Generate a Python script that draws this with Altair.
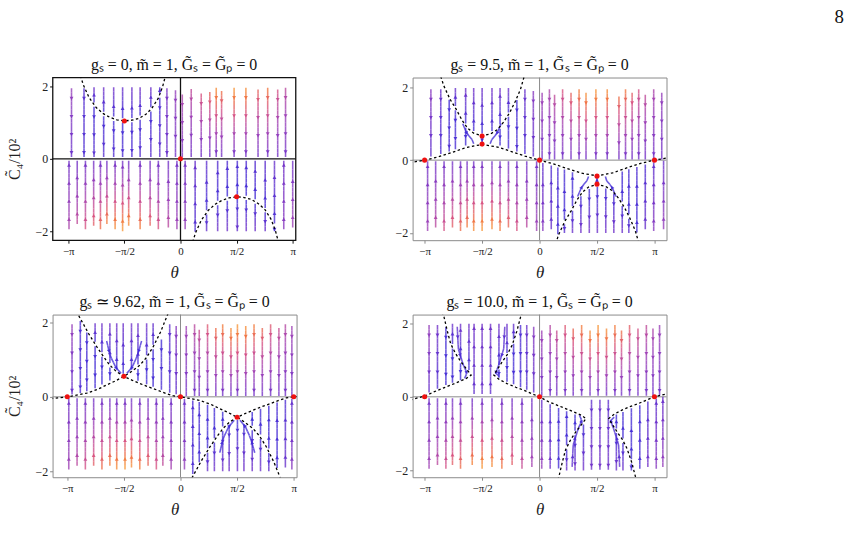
import math
import altair as alt
import pandas as pd

PI = math.pi
SERIF = "Liberation Serif"

TITLES = [
    "gₛ = 0,  m\u0303 = 1,  G\u0303ₛ = G\u0303ₚ = 0",
    "gₛ = 9.5,  m\u0303 = 1,  G\u0303ₛ = G\u0303ₚ = 0",
    "gₛ ≃ 9.62,  m\u0303 = 1,  G\u0303ₛ = G\u0303ₚ = 0",
    "gₛ = 10.0,  m\u0303 = 1,  G\u0303ₛ = G\u0303ₚ = 0",
]
Y_TITLE = "C\u0303₄/10²"
X_TICKS = [-PI, -PI / 2, 0.0, PI / 2, PI]
Y_TICKS = [-2, 0, 2]

# streamlines: (theta, C_start, C_end, speed_start, speed_end), flow runs start -> end
# bent streamlines: ([(theta, C), ...], speed_start, speed_end)

# ---------------- g_s = 0 ----------------
P1_LINES = [
    (-3.05, 1.95, 0.05, 0.45, 0.25), (-2.70, 1.95, 0.05, 0.15, 0.10),
    (-2.42, 1.56, 1.98, 0.05, 0.30), (-2.42, 1.44, 0.05, 0.05, 0.15),
    (-2.15, 1.30, 1.98, 0.05, 0.30), (-2.15, 1.18, 0.05, 0.05, 0.15),
    (-1.87, 1.17, 1.98, 0.05, 0.30), (-1.87, 1.05, 0.05, 0.05, 0.12),
    (-1.62, 1.12, 1.98, 0.03, 0.25), (-1.62, 1.00, 0.05, 0.03, 0.10),
    (-1.36, 1.13, 1.98, 0.05, 0.28), (-1.36, 1.01, 0.05, 0.05, 0.12),
    (-1.13, 1.20, 1.98, 0.05, 0.30), (-1.13, 1.08, 0.05, 0.05, 0.15),
    (-0.83, 1.43, 1.98, 0.05, 0.30), (-0.83, 1.31, 0.05, 0.05, 0.18),
    (-0.58, 1.81, 1.98, 0.05, 0.20), (-0.58, 1.69, 0.05, 0.08, 0.20),
    (-0.38, 1.95, 0.05, 0.35, 0.25), (-0.14, 1.90, 0.05, 0.45, 0.30),
    (0.05, 1.78, 0.05, 0.55, 0.35), (0.30, 1.93, 0.05, 0.62, 0.30),
    (0.58, 1.81, 0.05, 0.72, 0.30), (0.82, 1.85, 0.05, 0.80, 0.30),
    (1.00, 1.97, 0.05, 0.95, 0.30), (1.15, 1.88, 0.05, 0.85, 0.30),
    (1.50, 1.97, 0.05, 0.97, 0.30), (1.83, 1.97, 0.05, 0.95, 0.30),
    (2.17, 1.92, 0.05, 0.80, 0.30), (2.44, 1.97, 0.05, 0.88, 0.30),
    (2.72, 1.92, 0.05, 0.70, 0.30), (2.94, 1.97, 0.05, 0.60, 0.30),
    (-3.12, -1.95, -0.05, 0.55, 0.30), (-2.89, -1.80, -0.05, 0.62, 0.30),
    (-2.66, -1.95, -0.05, 0.72, 0.30), (-2.43, -1.85, -0.05, 0.78, 0.30),
    (-2.24, -1.95, -0.05, 0.85, 0.30), (-2.06, -1.80, -0.05, 0.90, 0.30),
    (-1.83, -1.95, -0.05, 0.95, 0.30), (-1.62, -2.00, -0.05, 0.98, 0.30),
    (-1.45, -1.85, -0.05, 0.95, 0.30), (-1.13, -1.95, -0.05, 0.90, 0.30),
    (-0.85, -1.85, -0.05, 0.80, 0.30), (-0.62, -1.95, -0.05, 0.72, 0.30),
    (-0.34, -1.90, -0.05, 0.60, 0.30), (-0.10, -1.95, -0.05, 0.50, 0.30),
    (0.13, -1.95, -0.05, 0.45, 0.30), (0.41, -2.02, -0.05, 0.10, 0.25),
    (0.73, -1.42, -0.05, 0.05, 0.20), (0.73, -1.54, -2.00, 0.05, 0.25),
    (1.04, -1.16, -0.05, 0.05, 0.15), (1.04, -1.28, -2.00, 0.05, 0.30),
    (1.31, -1.04, -0.05, 0.03, 0.12), (1.31, -1.16, -2.00, 0.03, 0.30),
    (1.59, -0.99, -0.05, 0.03, 0.10), (1.59, -1.11, -2.00, 0.03, 0.25),
    (1.84, -1.02, -0.05, 0.03, 0.12), (1.84, -1.14, -2.00, 0.03, 0.30),
    (2.09, -1.12, -0.05, 0.05, 0.15), (2.09, -1.24, -2.00, 0.05, 0.30),
    (2.37, -1.36, -0.05, 0.05, 0.20), (2.37, -1.48, -2.00, 0.05, 0.28),
    (2.63, -1.79, -0.05, 0.08, 0.25), (2.63, -1.91, -2.00, 0.05, 0.10),
    (2.89, -1.95, -0.05, 0.40, 0.30), (3.14, -1.90, -0.05, 0.50, 0.30),
]
P1_BENT = []
P1_CURVES = [
    [(-2.80, 2.30), (-2.72, 2.05), (-2.56, 1.70), (-2.36, 1.42), (-2.16, 1.25),
     (-1.98, 1.15), (-1.78, 1.08), (-1.57, 1.05), (-1.36, 1.07), (-1.16, 1.12),
     (-0.96, 1.24), (-0.80, 1.40), (-0.62, 1.68), (-0.50, 2.00), (-0.42, 2.30)],
    [(0.34, -2.30), (0.42, -2.05), (0.58, -1.70), (0.78, -1.42), (0.98, -1.25),
     (1.16, -1.15), (1.36, -1.08), (1.57, -1.05), (1.78, -1.07), (1.98, -1.12),
     (2.18, -1.24), (2.36, -1.40), (2.54, -1.68), (2.66, -2.00), (2.74, -2.30)],
]
P1_FIXED = [(-PI / 2, 1.05), (PI / 2, -1.05), (0.0, 0.0)]

# ---------------- g_s = 9.5 ----------------
P2_LINES = [
    (-2.97, 1.95, 0.10, 0.40, 0.20), (-2.70, 1.95, 0.17, 0.25, 0.10),
    (-2.47, 1.66, 0.24, 0.05, 0.10),
    (-2.30, 1.49, 1.98, 0.05, 0.28), (-2.30, 1.37, 0.30, 0.05, 0.08),
    (-2.02, 1.01, 1.98, 0.05, 0.30), (-2.02, 0.89, 0.40, 0.05, 0.05),
    (-1.80, 0.80, 1.98, 0.05, 0.30), (-1.57, 0.73, 1.98, 0.03, 0.28),
    (-1.30, 0.80, 1.98, 0.05, 0.30),
    (-1.08, 0.98, 1.98, 0.05, 0.30), (-1.08, 0.86, 0.40, 0.05, 0.05),
    (-0.85, 1.31, 1.98, 0.05, 0.28), (-0.85, 1.19, 0.32, 0.05, 0.08),
    (-0.62, 1.65, 0.24, 0.05, 0.10), (-0.40, 1.95, 0.17, 0.25, 0.10),
    (-0.17, 1.90, 0.10, 0.40, 0.20),
    (0.07, 1.85, 0.02, 0.50, 0.30), (0.27, 1.95, 0.02, 0.55, 0.30),
    (0.41, 1.80, 0.02, 0.62, 0.30), (0.63, 1.95, 0.02, 0.72, 0.30),
    (0.86, 1.85, 0.02, 0.80, 0.30), (1.08, 1.95, 0.02, 0.90, 0.30),
    (1.27, 1.85, 0.02, 0.95, 0.30), (1.54, 1.95, 0.02, 0.97, 0.30),
    (1.85, 1.95, 0.02, 0.95, 0.30), (2.17, 1.75, 0.02, 0.85, 0.30),
    (2.35, 1.95, 0.02, 0.88, 0.30), (2.53, 1.85, 0.02, 0.78, 0.30),
    (2.71, 1.95, 0.02, 0.70, 0.30), (2.89, 1.80, 0.02, 0.62, 0.30),
    (3.12, 1.95, 0.02, 0.55, 0.30), (3.34, 1.85, 0.02, 0.45, 0.30),
    (-3.06, -1.95, -0.03, 0.50, 0.30), (-2.84, -1.85, -0.03, 0.60, 0.30),
    (-2.61, -1.95, -0.03, 0.70, 0.30), (-2.38, -1.85, -0.03, 0.78, 0.30),
    (-2.16, -1.95, -0.03, 0.85, 0.30), (-1.98, -1.85, -0.03, 0.90, 0.30),
    (-1.80, -1.95, -0.03, 0.95, 0.30), (-1.57, -1.95, -0.03, 0.98, 0.30),
    (-1.30, -1.90, -0.03, 0.95, 0.30), (-1.08, -1.95, -0.03, 0.90, 0.30),
    (-0.85, -1.85, -0.03, 0.82, 0.30), (-0.62, -1.95, -0.03, 0.72, 0.30),
    (-0.35, -1.85, -0.03, 0.60, 0.30), (-0.08, -1.95, -0.03, 0.50, 0.30),
    (0.09, -1.95, -0.08, 0.40, 0.20), (0.32, -1.90, -0.15, 0.25, 0.10),
    (0.50, -2.04, -0.20, 0.05, 0.10),
    (0.68, -1.64, -0.26, 0.05, 0.08), (0.68, -1.76, -2.00, 0.05, 0.20),
    (0.90, -1.27, -0.33, 0.05, 0.05), (0.90, -1.39, -2.00, 0.05, 0.28),
    (1.13, -0.99, -2.00, 0.05, 0.30), (1.36, -0.79, -2.00, 0.05, 0.30),
    (1.58, -0.73, -2.00, 0.03, 0.28), (1.81, -0.78, -2.00, 0.05, 0.30),
    (2.03, -0.92, -2.00, 0.05, 0.30),
    (2.26, -1.14, -0.31, 0.05, 0.05), (2.26, -1.26, -2.00, 0.05, 0.28),
    (2.44, -1.49, -0.25, 0.05, 0.08), (2.44, -1.61, -2.00, 0.05, 0.22),
    (2.66, -1.99, -0.19, 0.05, 0.10), (2.89, -1.90, -0.12, 0.25, 0.10),
    (3.12, -1.95, -0.06, 0.40, 0.20), (3.39, -1.90, -0.02, 0.45, 0.25),
]
P2_BENT = [
    ([(-2.10, 1.00), (-1.98, 0.72), (-1.85, 0.58), (-1.80, 0.45)], 0.05, 0.03),
    ([(-1.05, 1.00), (-1.17, 0.72), (-1.30, 0.58), (-1.35, 0.45)], 0.05, 0.03),
    ([(-1.57, 0.62), (-1.57, 0.48)], 0.02, 0.02),
    ([(1.04, -1.00), (1.16, -0.72), (1.29, -0.58), (1.34, -0.45)], 0.05, 0.03),
    ([(2.09, -1.00), (1.97, -0.72), (1.84, -0.58), (1.80, -0.45)], 0.05, 0.03),
    ([(1.57, -0.62), (1.57, -0.48)], 0.02, 0.02),
]
P2_CURVES = [
    [(-2.70, 2.30), (-2.62, 2.05), (-2.45, 1.68), (-2.28, 1.40), (-2.12, 1.10),
     (-1.97, 0.88), (-1.80, 0.74), (-1.57, 0.67), (-1.34, 0.72), (-1.15, 0.84),
     (-0.98, 1.05), (-0.82, 1.30), (-0.66, 1.62), (-0.52, 1.95), (-0.42, 2.30)],
    [(0.44, -2.30), (0.52, -2.05), (0.69, -1.68), (0.86, -1.40), (1.02, -1.10),
     (1.17, -0.88), (1.34, -0.74), (1.57, -0.67), (1.80, -0.72), (1.99, -0.84),
     (2.16, -1.05), (2.32, -1.30), (2.48, -1.62), (2.62, -1.95), (2.72, -2.30)],
    [(-3.55, -0.07), (-3.14, 0.00), (-2.80, 0.08), (-2.42, 0.20), (-2.00, 0.35),
     (-1.57, 0.43), (-1.15, 0.36), (-0.75, 0.23), (-0.40, 0.11), (0.00, 0.00),
     (0.40, -0.11), (0.75, -0.23), (1.15, -0.36), (1.57, -0.43), (2.00, -0.35),
     (2.42, -0.20), (2.80, -0.08), (3.14, 0.00), (3.55, 0.07)],
]
P2_FIXED = [(-PI, 0.0), (-PI / 2, 0.66), (-PI / 2, 0.44), (0.0, 0.0),
            (PI / 2, -0.44), (PI / 2, -0.66), (PI, 0.0)]

# ---------------- g_s ~ 9.62 ----------------
P3_LINES = [
    (-3.01, 1.95, 0.06, 0.45, 0.25), (-2.78, 2.04, 0.10, 0.10, 0.10),
    (-2.60, 1.73, 0.15, 0.05, 0.08),
    (-2.37, 1.48, 1.98, 0.05, 0.28), (-2.37, 1.36, 0.23, 0.05, 0.05),
    (-2.18, 1.20, 1.98, 0.05, 0.30), (-2.18, 1.08, 0.33, 0.05, 0.05),
    (-1.96, 0.91, 1.98, 0.05, 0.30), (-1.96, 0.79, 0.44, 0.03, 0.03),
    (-1.77, 0.73, 1.98, 0.05, 0.30), (-1.59, 0.62, 1.98, 0.03, 0.28),
    (-1.36, 0.73, 1.98, 0.05, 0.30),
    (-1.18, 0.87, 1.98, 0.05, 0.30), (-1.18, 0.75, 0.43, 0.03, 0.03),
    (-0.94, 1.12, 1.98, 0.05, 0.30), (-0.94, 1.00, 0.34, 0.05, 0.05),
    (-0.76, 1.40, 1.98, 0.05, 0.25), (-0.76, 1.28, 0.27, 0.05, 0.05),
    (-0.53, 1.54, 0.19, 0.05, 0.08), (-0.30, 1.95, 0.11, 0.20, 0.10),
    (-0.12, 1.90, 0.07, 0.40, 0.20),
    (0.16, 1.90, 0.02, 0.50, 0.30), (0.39, 1.95, 0.02, 0.60, 0.30),
    (0.52, 1.80, 0.02, 0.65, 0.30), (0.75, 1.95, 0.02, 0.75, 0.30),
    (0.98, 1.85, 0.02, 0.85, 0.30), (1.17, 1.95, 0.02, 0.90, 0.30),
    (1.40, 1.85, 0.02, 0.95, 0.30), (1.58, 1.95, 0.02, 0.97, 0.30),
    (1.81, 1.90, 0.02, 0.95, 0.30), (2.04, 1.95, 0.02, 0.90, 0.30),
    (2.27, 1.85, 0.02, 0.82, 0.30), (2.50, 1.95, 0.02, 0.75, 0.30),
    (2.73, 1.85, 0.02, 0.65, 0.30), (2.91, 1.95, 0.02, 0.58, 0.30),
    (3.09, 1.90, 0.02, 0.50, 0.30),
    (-3.10, -1.95, -0.04, 0.50, 0.30), (-2.87, -1.85, -0.04, 0.60, 0.30),
    (-2.64, -1.95, -0.04, 0.70, 0.30), (-2.41, -1.85, -0.04, 0.78, 0.30),
    (-2.18, -1.95, -0.04, 0.85, 0.30), (-1.96, -1.85, -0.04, 0.90, 0.30),
    (-1.77, -1.95, -0.04, 0.95, 0.30), (-1.54, -1.95, -0.04, 0.98, 0.30),
    (-1.36, -1.90, -0.04, 0.95, 0.30), (-1.13, -1.95, -0.04, 0.90, 0.30),
    (-0.90, -1.85, -0.04, 0.82, 0.30), (-0.67, -1.95, -0.04, 0.72, 0.30),
    (-0.49, -1.85, -0.04, 0.62, 0.30), (-0.26, -1.95, -0.04, 0.52, 0.30),
    (0.11, -1.95, -0.06, 0.45, 0.25), (0.34, -2.07, -0.10, 0.10, 0.10),
    (0.52, -1.76, -0.14, 0.05, 0.08),
    (0.75, -1.38, -0.21, 0.05, 0.05), (0.75, -1.50, -2.00, 0.05, 0.28),
    (0.94, -1.11, -0.30, 0.05, 0.05), (0.94, -1.23, -2.00, 0.05, 0.30),
    (1.17, -0.80, -0.40, 0.03, 0.03), (1.17, -0.92, -2.00, 0.05, 0.30),
    (1.35, -0.75, -2.00, 0.05, 0.30), (1.58, -0.62, -2.00, 0.03, 0.28),
    (1.76, -0.73, -2.00, 0.05, 0.30),
    (1.99, -0.90, -2.00, 0.05, 0.30), (1.99, -0.78, -0.41, 0.03, 0.03),
    (2.22, -1.13, -2.00, 0.05, 0.28), (2.22, -1.01, -0.32, 0.05, 0.05),
    (2.45, -1.51, -2.00, 0.05, 0.22), (2.45, -1.39, -0.24, 0.05, 0.05),
    (2.68, -1.91, -0.15, 0.05, 0.08), (2.91, -1.90, -0.08, 0.25, 0.10),
    (3.09, -1.95, -0.05, 0.40, 0.20),
]
P3_BENT = [
    ([(-2.05, 1.50), (-1.95, 1.10), (-1.80, 0.80), (-1.65, 0.63)], 0.05, 0.02),
    ([(-1.08, 1.50), (-1.20, 1.10), (-1.34, 0.80), (-1.49, 0.63)], 0.05, 0.02),
    ([(1.09, -1.50), (1.19, -1.10), (1.34, -0.80), (1.49, -0.63)], 0.05, 0.02),
    ([(2.06, -1.50), (1.94, -1.10), (1.80, -0.80), (1.65, -0.63)], 0.05, 0.02),
]
P3_CURVES = [
    [(-2.88, 2.30), (-2.83, 2.19), (-2.55, 1.70), (-2.32, 1.34), (-2.10, 1.03),
     (-1.96, 0.85), (-1.78, 0.68), (-1.57, 0.55), (-1.35, 0.45), (-1.13, 0.36),
     (-0.90, 0.27), (-0.67, 0.19), (-0.40, 0.09), (-0.21, 0.03), (0.00, 0.00),
     (0.29, -0.05), (0.54, -0.10), (0.84, -0.20), (1.09, -0.32), (1.34, -0.43),
     (1.57, -0.55), (1.78, -0.68), (2.01, -0.85), (2.19, -1.05), (2.38, -1.34),
     (2.59, -1.75), (2.79, -2.23), (2.83, -2.30)],
    [(-3.60, -0.05), (-3.14, 0.00), (-2.85, 0.05), (-2.60, 0.10), (-2.30, 0.20),
     (-2.05, 0.32), (-1.80, 0.43), (-1.57, 0.55), (-1.36, 0.68), (-1.13, 0.85),
     (-0.95, 1.05), (-0.76, 1.34), (-0.55, 1.75), (-0.35, 2.23), (-0.31, 2.30)],
    [(0.26, -2.30), (0.31, -2.19), (0.59, -1.70), (0.82, -1.34), (1.04, -1.03),
     (1.18, -0.85), (1.36, -0.68), (1.57, -0.55), (1.79, -0.45), (2.01, -0.36),
     (2.24, -0.27), (2.47, -0.19), (2.74, -0.09), (2.93, -0.03), (3.14, 0.00),
     (3.30, 0.01)],
]
P3_FIXED = [(-PI, 0.0), (-PI / 2, 0.55), (0.0, 0.0), (PI / 2, -0.55), (PI, 0.0)]

# ---------------- g_s = 10 ----------------
P4_LINES = [
    (-3.02, 1.95, 0.12, 0.45, 0.25), (-2.79, 1.95, 0.22, 0.30, 0.12),
    (-2.56, 1.89, 0.32, 0.05, 0.05),
    (-2.38, 1.43, 1.98, 0.05, 0.28), (-2.38, 1.31, 0.38, 0.05, 0.05),
    (-2.16, 1.03, 1.98, 0.05, 0.30), (-2.16, 0.91, 0.45, 0.03, 0.03),
    (-1.93, 0.73, 1.98, 0.05, 0.30),
    (-1.79, 0.08, 1.98, 0.20, 0.30), (-1.57, 0.08, 1.98, 0.25, 0.30),
    (-1.34, 0.08, 1.98, 0.20, 0.30),
    (-1.11, 0.86, 1.98, 0.05, 0.30), (-1.11, 0.74, 0.52, 0.03, 0.03),
    (-0.89, 1.19, 1.98, 0.05, 0.28), (-0.89, 1.07, 0.41, 0.05, 0.05),
    (-0.71, 1.56, 1.98, 0.05, 0.25), (-0.71, 1.44, 0.34, 0.05, 0.05),
    (-0.52, 1.95, 0.26, 0.10, 0.05), (-0.35, 1.95, 0.19, 0.25, 0.10),
    (-0.16, 1.90, 0.12, 0.40, 0.20),
    (0.06, 1.80, 0.03, 0.50, 0.30), (0.29, 1.95, 0.03, 0.58, 0.30),
    (0.47, 1.80, 0.03, 0.65, 0.30), (0.70, 1.95, 0.03, 0.75, 0.30),
    (0.92, 1.85, 0.03, 0.82, 0.30), (1.15, 1.95, 0.03, 0.90, 0.30),
    (1.38, 1.80, 0.03, 0.95, 0.30), (1.60, 1.95, 0.03, 0.97, 0.30),
    (1.83, 1.85, 0.03, 0.95, 0.30), (2.06, 1.95, 0.03, 0.90, 0.30),
    (2.24, 1.80, 0.03, 0.85, 0.30), (2.46, 1.95, 0.03, 0.78, 0.30),
    (2.69, 1.85, 0.03, 0.70, 0.30), (2.92, 1.95, 0.03, 0.62, 0.30),
    (3.10, 1.85, 0.03, 0.55, 0.30), (3.28, 1.95, 0.03, 0.48, 0.30),
    (-3.02, -1.95, -0.04, 0.50, 0.30), (-2.79, -1.85, -0.04, 0.60, 0.30),
    (-2.56, -1.95, -0.04, 0.70, 0.30), (-2.38, -1.85, -0.04, 0.78, 0.30),
    (-2.16, -1.95, -0.04, 0.85, 0.30), (-1.84, -1.85, -0.04, 0.92, 0.30),
    (-1.57, -1.95, -0.04, 0.98, 0.30), (-1.30, -1.90, -0.04, 0.95, 0.30),
    (-1.03, -1.95, -0.04, 0.88, 0.30), (-0.75, -1.85, -0.04, 0.78, 0.30),
    (-0.48, -1.95, -0.04, 0.65, 0.30), (-0.21, -1.90, -0.04, 0.52, 0.30),
    (0.06, -1.95, -0.08, 0.45, 0.25), (0.29, -1.95, -0.20, 0.30, 0.12),
    (0.52, -1.94, -0.30, 0.05, 0.05),
    (0.74, -1.31, -0.39, 0.05, 0.05), (0.74, -1.43, -2.00, 0.05, 0.28),
    (0.97, -0.92, -0.48, 0.03, 0.03), (0.97, -1.04, -2.00, 0.05, 0.30),
    (1.20, -0.75, -2.00, 0.05, 0.30),
    (1.42, -0.08, -1.98, 0.20, 0.30), (1.65, -0.08, -1.98, 0.25, 0.30),
    (1.88, -0.08, -1.98, 0.20, 0.30),
    (2.10, -0.86, -0.48, 0.03, 0.03), (2.10, -0.98, -2.00, 0.05, 0.30),
    (2.28, -1.13, -0.41, 0.05, 0.05), (2.28, -1.25, -2.00, 0.05, 0.28),
    (2.51, -1.69, -0.31, 0.05, 0.05), (2.51, -1.81, -2.00, 0.05, 0.10),
    (2.74, -1.95, -0.23, 0.08, 0.05), (2.96, -1.90, -0.13, 0.30, 0.12),
    (3.19, -1.95, -0.05, 0.40, 0.20), (3.37, -1.90, 0.00, 0.45, 0.25),
]
P4_BENT = [
    ([(-2.25, 1.90), (-2.22, 1.30), (-2.08, 0.85), (-1.98, 0.65), (-2.05, 0.50)], 0.20, 0.03),
    ([(-0.95, 1.90), (-0.98, 1.30), (-1.12, 0.85), (-1.20, 0.65), (-1.10, 0.55)], 0.20, 0.03),
    ([(0.89, -1.90), (0.92, -1.30), (1.06, -0.85), (1.16, -0.65), (1.09, -0.50)], 0.20, 0.03),
    ([(2.19, -1.90), (2.16, -1.30), (2.02, -0.85), (1.94, -0.65), (2.04, -0.55)], 0.20, 0.03),
]
P4_CURVES = [
    [(-2.66, 2.30), (-2.61, 2.16), (-2.52, 1.78), (-2.43, 1.44), (-2.30, 1.18),
     (-2.15, 0.95), (-2.00, 0.76), (-1.87, 0.59), (-2.00, 0.50), (-2.20, 0.41),
     (-2.45, 0.31), (-2.65, 0.23), (-2.90, 0.13), (-3.13, 0.02), (-3.30, -0.02),
     (-3.55, -0.09)],
    [(-0.47, 2.30), (-0.52, 2.16), (-0.62, 1.78), (-0.75, 1.40), (-0.88, 1.15),
     (-1.02, 0.95), (-1.13, 0.78), (-1.25, 0.59), (-1.10, 0.47), (-0.89, 0.36),
     (-0.65, 0.26), (-0.43, 0.18), (-0.20, 0.08), (0.00, 0.00), (0.24, -0.13),
     (0.49, -0.23), (0.69, -0.31), (0.94, -0.41), (1.14, -0.50), (1.27, -0.59),
     (1.14, -0.76), (0.99, -0.95), (0.84, -1.18), (0.71, -1.44), (0.62, -1.78),
     (0.53, -2.16), (0.48, -2.30)],
    [(2.67, -2.30), (2.62, -2.16), (2.52, -1.78), (2.39, -1.40), (2.26, -1.15),
     (2.12, -0.95), (2.01, -0.78), (1.89, -0.59), (2.04, -0.47), (2.25, -0.36),
     (2.49, -0.26), (2.71, -0.18), (2.94, -0.08), (3.14, 0.00), (3.55, 0.10)],
]
P4_FIXED = [(-PI, 0.0), (0.0, 0.0), (PI, 0.0)]

SPEED_STOPS = [0.0, 0.3, 0.5, 0.7, 0.85, 1.0]
SPEED_COLORS = ["#3a2ad8", "#7030c8", "#a040b4", "#d65082", "#f07040", "#f9a532"]


def stream_frames(lines, bent):
    """Split each streamline into short coloured pieces and place arrowheads."""
    polys = [([(t, a), (t, b)], s0, s1) for t, a, b, s0, s1 in lines] + list(bent)
    segs, heads = [], []
    for pts, s0, s1 in polys:
        cum = [0.0]
        for (xa, ya), (xb, yb) in zip(pts[:-1], pts[1:]):
            cum.append(cum[-1] + math.hypot(xb - xa, yb - ya))
        total = cum[-1]

        def locate(d):
            for i in range(1, len(pts)):
                if d <= cum[i] or i == len(pts) - 1:
                    (xa, ya), (xb, yb) = pts[i - 1], pts[i]
                    span = (cum[i] - cum[i - 1]) or 1.0
                    f = (d - cum[i - 1]) / span
                    return xa + f * (xb - xa), ya + f * (yb - ya), xb - xa, yb - ya

        n = max(1, round(total / 0.12))
        for k in range(n):
            xa, ya, _, _ = locate(total * k / n)
            xb, yb, _, _ = locate(total * (k + 1) / n)
            segs.append({"x": xa, "y": ya, "x2": xb, "y2": yb,
                         "s": s0 + (s1 - s0) * (k + 0.5) / n})
        if total < 0.55:
            spots = [total / 2]
        else:
            spots, d = [], 0.28
            while d < total - 0.1:
                spots.append(d)
                d += 0.5
        for d in spots:
            x, y, dx, dy = locate(d)
            heads.append({"x": x, "y": y,
                          "angle": math.degrees(math.atan2(dx, dy)) % 360,
                          "s": s0 + (s1 - s0) * d / total})
    return pd.DataFrame(segs), pd.DataFrame(heads)


def curve_frame(curves):
    rows = []
    for cid, pts in enumerate(curves):
        for i, (x, y) in enumerate(pts):
            rows.append({"cid": cid, "i": i, "x": x, "y": y})
    return pd.DataFrame(rows)


X_LABELS = ("datum.value < -2 ? '−π' : datum.value < -1 ? '−π/2' : "
            "datum.value < 1 ? '0' : datum.value < 2 ? 'π/2' : 'π'")
Y_LABELS = "datum.value < 0 ? '−2' : datum.value > 0 ? '2' : '0'"
COLOR_SCALE = alt.Scale(domain=SPEED_STOPS, range=SPEED_COLORS, interpolate="rgb")


def panel(title, lines, bent, curves, fixed, xdom, ydom, width, dark, ytitle):
    segs, heads = stream_frames(lines, bent)
    frame_col = "#111111" if dark else "#8a8a8a"
    xaxis = alt.Axis(values=X_TICKS, labelExpr=X_LABELS, title="θ", grid=False,
                     domain=False, tickSize=3, tickColor=frame_col, labelPadding=2,
                     labelFont=SERIF, labelFontSize=11, labelColor="#222222",
                     titleFont=SERIF, titleFontSize=17, titleFontStyle="italic",
                     titleFontWeight="normal", titlePadding=9, titleColor="#222222")
    yaxis = alt.Axis(values=Y_TICKS, labelExpr=Y_LABELS, title=Y_TITLE if ytitle else None,
                     grid=False, domain=False, tickSize=3, tickColor=frame_col,
                     labelPadding=2, labelFont=SERIF, labelFontSize=12,
                     labelColor="#222222", titleFont=SERIF, titleFontSize=16,
                     titleFontWeight="normal", titlePadding=13, titleColor="#222222")
    X = alt.X("x:Q", scale=alt.Scale(domain=xdom, nice=False, zero=False), axis=xaxis)
    Y = alt.Y("y:Q", scale=alt.Scale(domain=ydom, nice=False, zero=False), axis=yaxis)

    hline = alt.Chart(pd.DataFrame({"y": [0.0]})).mark_rule(
        color=frame_col, strokeWidth=1.3 if dark else 1.0).encode(y=Y)
    vline = alt.Chart(pd.DataFrame({"x": [0.0]})).mark_rule(
        color=frame_col, strokeWidth=1.3 if dark else 1.0).encode(x=X)
    streams = alt.Chart(segs).mark_rule(strokeWidth=1.6, opacity=0.78, clip=True).encode(
        x=X, x2="x2:Q", y=Y, y2="y2:Q",
        color=alt.Color("s:Q", scale=COLOR_SCALE, legend=None))
    arrows = alt.Chart(heads).mark_point(shape="triangle-up", filled=True, size=15,
                                         opacity=0.9, clip=True).encode(
        x=X, y=Y, angle=alt.Angle("angle:Q", scale=None),
        color=alt.Color("s:Q", scale=COLOR_SCALE, legend=None))
    nullclines = alt.Chart(curve_frame(curves)).mark_line(
        color="black", strokeWidth=1.3, strokeDash=[2.5, 2.5], clip=True).encode(
        x=X, y=Y, detail="cid:N", order="i:Q")
    points = alt.Chart(pd.DataFrame(fixed, columns=["x", "y"])).mark_circle(
        color="#ee1111", size=26, opacity=1, clip=True).encode(x=X, y=Y)

    return alt.layer(hline, vline, streams, arrows, nullclines, points).properties(
        width=width, height=164,
        title=alt.TitleParams(title, font=SERIF, fontSize=16, fontWeight="normal",
                              color="#111111", offset=4),
        view=alt.ViewBackground(stroke=frame_col, strokeWidth=1.3 if dark else 1.0),
    )


p1 = panel(TITLES[0], P1_LINES, P1_BENT, P1_CURVES, P1_FIXED,
           [-3.58, 3.22], [-2.25, 2.25], 245, True, True)
p2 = panel(TITLES[1], P2_LINES, P2_BENT, P2_CURVES, P2_FIXED,
           [-3.47, 3.47], [-2.2, 2.27], 256, False, False)
p3 = panel(TITLES[2], P3_LINES, P3_BENT, P3_CURVES, P3_FIXED,
           [-3.55, 3.22], [-2.16, 2.21], 246, False, True)
p4 = panel(TITLES[3], P4_LINES, P4_BENT, P4_CURVES, P4_FIXED,
           [-3.47, 3.47], [-2.18, 2.23], 256, False, False)

chart = alt.vconcat(
    alt.hconcat(p1, p2, spacing=97),
    alt.hconcat(p3, p4, spacing=97),
    spacing=12,
).properties(
    title=alt.TitleParams("8", anchor="end", font=SERIF, fontSize=19,
                          fontWeight="normal", color="#111111", dx=178, offset=30),
).configure_view(
    strokeWidth=1
).configure(
    background="white", padding=5
)

chart.save("out.html", embed_options={"renderer": "svg", "actions": False})
